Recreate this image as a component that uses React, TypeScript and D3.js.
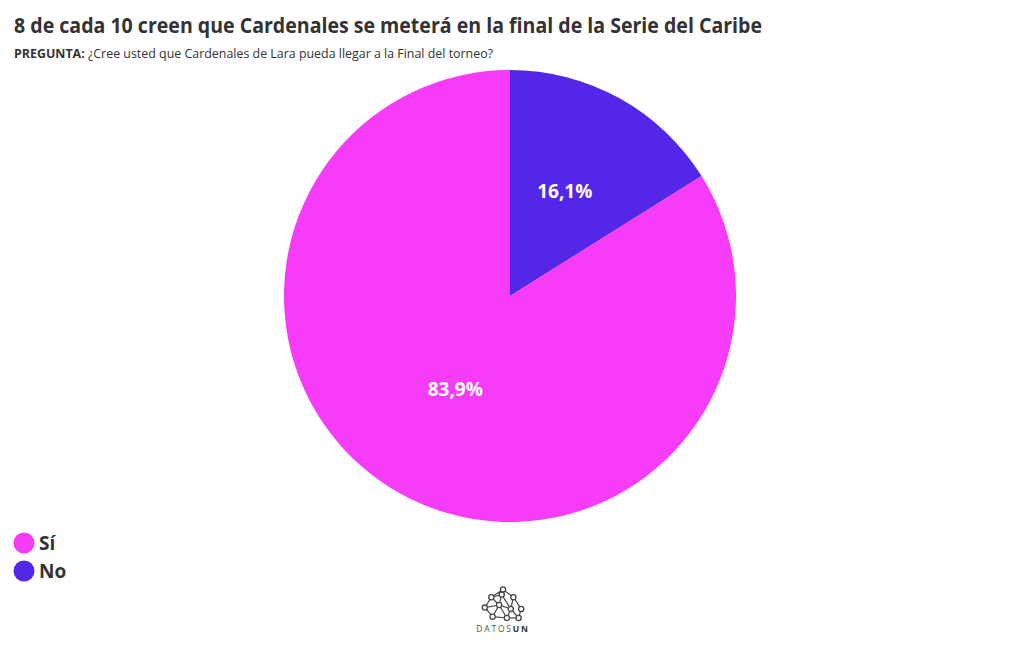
import React from "react";
import * as d3 from "d3";

const categories = ["No", "Sí"];
const values = [16.1, 83.9];
const colors = ["#5426e8", "#f63cf8"];
const legendOrder = ["Sí", "No"];
const titleText = "8 de cada 10 creen que Cardenales se meterá en la final de la Serie del Caribe";
const subtitleBold = "PREGUNTA:";
const subtitleText = " ¿Cree usted que Cardenales de Lara pueda llegar a la Final del torneo?";

const logoNodes: [number, number][] = [
  [0, -12], [-9, -6], [8, -6], [-14, 2], [-3, 0], [6, 3], [14, 3], [-8, 9], [3, 10], [12, 10], [-1, -8]
];
const logoLinks: [number, number][] = [
  [0, 1], [0, 2], [0, 4], [1, 3], [1, 4], [2, 5], [2, 6], [3, 7], [4, 5], [4, 7], [4, 8], [5, 8], [5, 9], [6, 9], [7, 8], [8, 9], [3, 4], [10, 0], [10, 1], [10, 5]
];

export default function App() {
  const W = 1020, H = 650;
  const cx = 510, cy = 296, R = 226;
  const pie = d3.pie<number>().sort(null).value((d) => d)(values);
  const arc = d3.arc<d3.PieArcDatum<number>>().innerRadius(0).outerRadius(R);
  const labelArc = d3.arc<d3.PieArcDatum<number>>().innerRadius(R * 0.5).outerRadius(R * 0.5);
  const font = "'Open Sans', 'Noto Sans', sans-serif";
  const colorScale = d3.scaleOrdinal<string, string>().domain(categories).range(colors);
  const fmt = (v: number) => v.toFixed(1).replace(".", ",") + "%";

  return (
    <svg width={W} height={H} style={{ position: "absolute", left: 0, top: 0, background: "#fff" }} fontFamily={font}>
      <text x={14} y={33} fontSize={21} fontWeight={700} fill="#333" textLength={748} lengthAdjust="spacingAndGlyphs">{titleText}</text>
      <text x={14} y={58} fontSize={12.5} fill="#333" textLength={479} lengthAdjust="spacingAndGlyphs">
        <tspan fontWeight={700}>{subtitleBold}</tspan>
        <tspan>{subtitleText}</tspan>
      </text>
      <g transform={`translate(${cx},${cy})`}>
        {pie.map((p, i) => (
          <path key={i} d={arc(p) || ""} fill={colorScale(categories[i])} />
        ))}
        {pie.map((p, i) => {
          const [lx, ly] = labelArc.centroid(p);
          return (
            <text key={"l" + i} x={lx} y={ly - 6} dy="0.35em" textAnchor="middle" fontSize={19} fontWeight={700} fill="#fff">
              {fmt(values[i])}
            </text>
          );
        })}
      </g>
      <g>
        {legendOrder.map((c, i) => (
          <g key={c} transform={`translate(24,${543 + i * 28})`}>
            <circle r={10.5} fill={colorScale(c)} />
            <text x={15} dy="0.36em" fontSize={19} fontWeight={700} fill="#333">{c}</text>
          </g>
        ))}
      </g>
      <g transform="translate(503,605) scale(1.3)">
        {logoLinks.map(([a, b], i) => (
          <line key={i} x1={logoNodes[a][0]} y1={logoNodes[a][1]} x2={logoNodes[b][0]} y2={logoNodes[b][1]} stroke="#444" strokeWidth={0.9} />
        ))}
        {logoNodes.map(([x, y], i) => (
          <circle key={i} cx={x} cy={y} r={2} fill="#fff" stroke="#444" strokeWidth={1} />
        ))}
      </g>
      <text x={503} y={632} textAnchor="middle" fontSize={8.5} fill="#555" letterSpacing={1.8}>
        DATOS<tspan fontWeight={700} fill="#333">UN</tspan>
      </text>
    </svg>
  );
}
